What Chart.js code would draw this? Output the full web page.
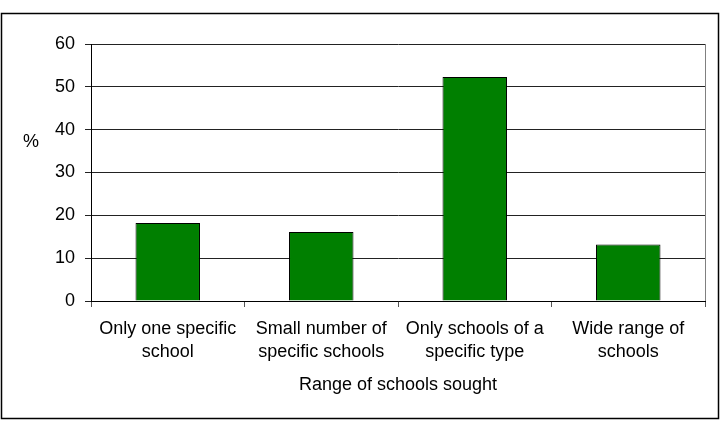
<!DOCTYPE html>
<html>
<head>
<meta charset="utf-8">
<script src="https://cdn.jsdelivr.net/npm/chart.js@4/dist/chart.umd.min.js"></script>
<style>
  html, body { margin: 0; padding: 0; background: #fff; }
  #wrap { width: 723px; height: 424px; }
</style>
</head>
<body>
<div id="wrap"><canvas id="chart" width="723" height="424"></canvas></div>
<script>
const categories = [
  ['Only one specific', 'school'],
  ['Small number of', 'specific schools'],
  ['Only schools of a', 'specific type'],
  ['Wide range of', 'schools']
]
const percentValues = [18.2, 16.1, 52.3, 13.2]
const yTicks = [0, 10, 20, 30, 40, 50, 60]

const font = 'Liberation Sans, Arial, sans-serif'

// outer frame, right edge of plot and the "%" label
const decorations = {
  id: 'decorations',
  afterDraw(chart) {
    const c = chart.ctx
    const a = chart.chartArea
    c.save()
    c.strokeStyle = '#000'
    c.lineWidth = 1.5
    c.strokeRect(1.5, 13.5, 717, 405)
    c.strokeStyle = '#808080'
    c.lineWidth = 1
    c.beginPath()
    c.moveTo(a.right + 0.5, a.top)
    c.lineTo(a.right + 0.5, a.bottom)
    c.stroke()
    c.fillStyle = '#000'
    c.font = '18px ' + font
    c.textAlign = 'center'
    c.textBaseline = 'middle'
    c.fillText('%', 31, 142)
    c.restore()
  }
}

new Chart(document.getElementById('chart'), {
  type: 'bar',
  data: {
    labels: categories,
    datasets: [{
      data: percentValues,
      backgroundColor: '#007f00',
      borderColor: '#000',
      borderWidth: 1,
      categoryPercentage: 0.42,
      barPercentage: 1
    }]
  },
  options: {
    responsive: false,
    animation: false,
    layout: { padding: { top: 44, right: 18, bottom: 0, left: 0 } },
    plugins: { legend: { display: false }, tooltip: { enabled: false } },
    scales: {
      x: {
        afterFit: s => { s.height = 123 },
        grid: { drawOnChartArea: false, drawTicks: true, tickLength: 6, color: '#555', offset: true },
        border: { color: '#000', width: 1 },
        ticks: { color: '#000', font: { family: font, size: 18, lineHeight: 1.27 }, padding: 11, maxRotation: 0 },
        title: {
          display: true,
          text: 'Range of schools sought',
          color: '#000',
          font: { family: font, size: 18 },
          padding: { top: 0, bottom: 28 }
        }
      },
      y: {
        min: 0,
        max: 60,
        afterFit: s => { s.width = 91 },
        afterBuildTicks: s => { s.ticks = yTicks.map(v => ({ value: v })) },
        grid: { color: '#222', tickLength: 6 },
        border: { color: '#000', width: 1 },
        ticks: { color: '#000', font: { family: font, size: 18 }, padding: 10 }
      }
    }
  },
  plugins: [decorations]
})
</script>
</body>
</html>
